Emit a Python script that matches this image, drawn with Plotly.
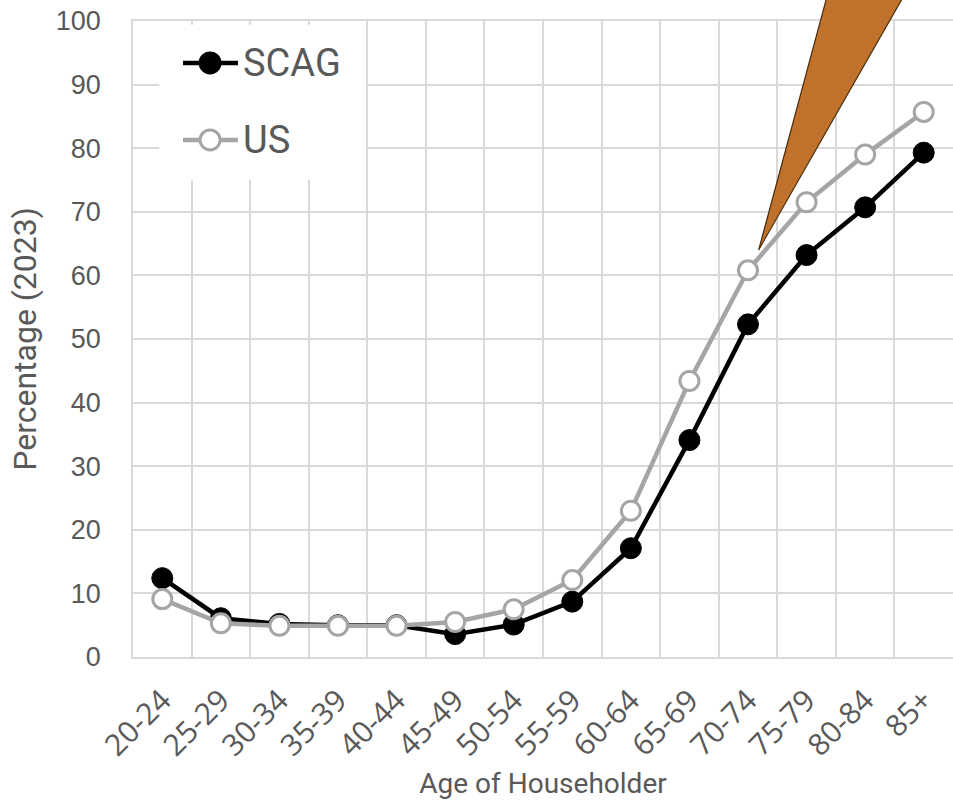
import plotly.graph_objects as go

age_groups = ['20-24', '25-29', '30-34', '35-39', '40-44', '45-49', '50-54',
              '55-59', '60-64', '65-69', '70-74', '75-79', '80-84', '85+']
scag = [12.4, 6.1, 5.2, 5.0, 5.0, 3.6, 5.1, 8.7, 17.1, 34.1, 52.3, 63.2, 70.7, 79.3]
us = [9.1, 5.3, 4.9, 4.9, 4.9, 5.5, 7.5, 12.1, 23.0, 43.4, 60.8, 71.5, 79.0, 85.7]

TEXT = '#595959'
GRID = '#D9D9D9'
GRAY = '#A5A5A5'

x = list(range(len(age_groups)))

fig = go.Figure()

fig.add_trace(go.Scatter(
    x=x, y=scag, name='SCAG', mode='lines+markers',
    line=dict(color='black', width=4.5),
    marker=dict(size=21, color='black', line=dict(color='black', width=1)),
    showlegend=False
))
fig.add_trace(go.Scatter(
    x=x, y=us, name='US', mode='lines+markers',
    line=dict(color=GRAY, width=4.5),
    marker=dict(size=19, color='white', line=dict(color=GRAY, width=3)),
    showlegend=False
))

shapes = []
annotations = []

# legend box (drawn by hand so the symbol lines match the original length)
shapes.append(dict(type='rect', xref='paper', yref='paper',
                   x0=0.032, x1=0.284, y0=0.75, y1=0.994,
                   fillcolor='white', line=dict(width=0), layer='above'))
legend_rows = [('SCAG', 'black', 'black', 0.934), ('US', GRAY, 'white', 0.813)]
for label, col, fill, yy in legend_rows:
    shapes.append(dict(type='line', xref='paper', yref='paper',
                       x0=0.061, x1=0.128, y0=yy, y1=yy,
                       line=dict(color=col, width=4.5), layer='above'))
    shapes.append(dict(type='circle', xref='paper', yref='paper',
                       xsizemode='pixel', ysizemode='pixel',
                       xanchor=0.094, yanchor=yy, x0=-10, x1=10, y0=-10, y1=10,
                       fillcolor=fill, line=dict(color=col, width=3), layer='above'))
    annotations.append(dict(text=label, xref='paper', yref='paper',
                            x=0.132, y=yy, xanchor='left', yanchor='middle',
                            showarrow=False,
                            font=dict(family='Roboto', size=38, color=TEXT)))

# orange callout pointer
shapes.append(dict(type='path', xref='paper', yref='paper',
                   path='M 0.763 0.640 L 0.855 1.08 L 0.958 1.08 Z',
                   fillcolor='#C0712B', line=dict(color='#4A2C0C', width=1.2),
                   layer='above'))

fig.update_layout(
    width=953, height=805,
    margin=dict(l=133, r=0, t=21, b=148),
    plot_bgcolor='white', paper_bgcolor='white',
    font=dict(family='Liberation Sans, Arial, sans-serif', color=TEXT),
    shapes=shapes,
    annotations=annotations,
    xaxis=dict(
        range=[-0.5, 13.5], automargin=False,
        tickmode='array', tickvals=x, ticktext=age_groups,
        tickangle=-45,
        tickfont=dict(family='Open Sans, sans-serif', size=30, color=TEXT),
        ticks='', ticklabelstandoff=12,
        showgrid=False, zeroline=False,
        showline=True, linecolor=GRID, linewidth=1.5, mirror=True,
        minor=dict(tickmode='array', tickvals=[i - 0.5 for i in range(15)],
                   showgrid=True, gridcolor=GRID, gridwidth=1.5, ticks=''),
        title=dict(text='Age of Householder', standoff=10,
                   font=dict(family='Roboto', size=28, color=TEXT)),
    ),
    yaxis=dict(
        range=[0, 100], dtick=10, automargin=False,
        tickfont=dict(family='Liberation Sans, Arial, sans-serif', size=27, color=TEXT),
        ticks='', ticklabelstandoff=25,
        showgrid=True, gridcolor=GRID, gridwidth=1.5, zeroline=False,
        showline=True, linecolor=GRID, linewidth=1.5, mirror=True,
        title=dict(text='Percentage (2023)', standoff=10,
                   font=dict(family='Roboto', size=32, color=TEXT)),
    ),
)

# the page body has a default 8px margin; drop it so the figure sits at 0,0
fig.write_html('out.html', config={'displayModeBar': False},
               post_script="document.body.style.margin='0';")
